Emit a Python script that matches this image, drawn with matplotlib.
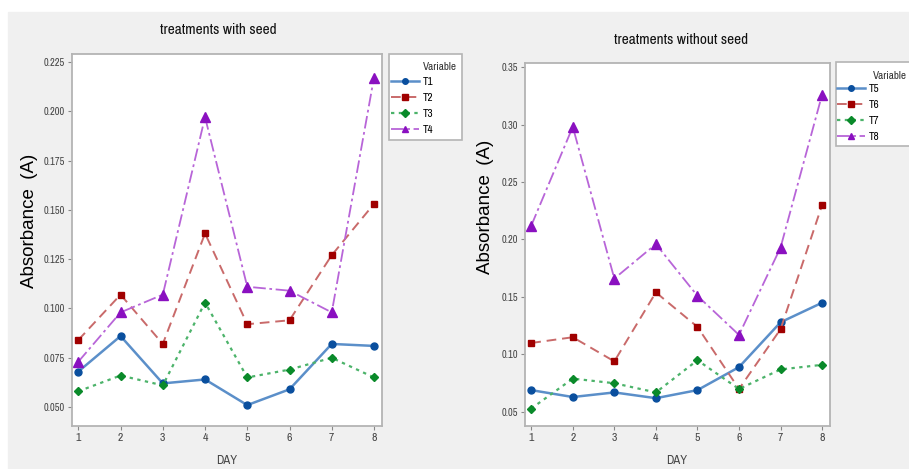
import matplotlib
matplotlib.use("Agg")
import matplotlib.pyplot as plt
from matplotlib.patches import Rectangle

days = [1, 2, 3, 4, 5, 6, 7, 8]

# treatments with seed
t1 = [0.068, 0.086, 0.062, 0.064, 0.051, 0.059, 0.082, 0.081]
t2 = [0.084, 0.107, 0.082, 0.138, 0.092, 0.094, 0.127, 0.153]
t3 = [0.058, 0.066, 0.061, 0.103, 0.065, 0.069, 0.075, 0.065]
t4 = [0.073, 0.098, 0.107, 0.197, 0.111, 0.109, 0.098, 0.217]

# treatments without seed
t5 = [0.069, 0.063, 0.067, 0.062, 0.069, 0.089, 0.128, 0.145]
t6 = [0.110, 0.115, 0.094, 0.154, 0.124, 0.070, 0.122, 0.230]
t7 = [0.053, 0.079, 0.075, 0.067, 0.095, 0.070, 0.087, 0.091]
t8 = [0.212, 0.298, 0.166, 0.196, 0.151, 0.117, 0.193, 0.326]

left_ticks = [0.050, 0.075, 0.100, 0.125, 0.150, 0.175, 0.200, 0.225]
right_ticks = [0.05, 0.10, 0.15, 0.20, 0.25, 0.30, 0.35]

narrow = ['Archivo Narrow', 'Liberation Sans Narrow', 'Liberation Sans', 'DejaVu Sans']
plain = ['Liberation Sans', 'DejaVu Sans']

# (line colour, marker colour, linestyle, marker, marker size, line width)
styles = [
    ('#5b8fc9', '#0a4f9e', '-', 'o', 5, 1.8),
    ('#c96a6a', '#a00000', (0, (5, 3)), 's', 4.5, 1.4),
    ('#4cb36a', '#0a8a2a', (0, (1.5, 2)), 'D', 4.5, 1.6),
    ('#b865d8', '#8a10c0', (0, (7, 2, 1.5, 2)), '^', 6.5, 1.3),
]

W, H = 909, 469
fig = plt.figure(figsize=(W / 100, H / 100), dpi=100, facecolor='white')

# gray panel backgrounds
fig.patches.append(Rectangle((8 / W, 0), (455 - 8) / W, (H - 12) / H,
                             transform=fig.transFigure, color='#f0f0f0', zorder=-10))
fig.patches.append(Rectangle((455 / W, 0), (W - 455) / W, (H - 12) / H,
                             transform=fig.transFigure, color='#f0f0f0', zorder=-10))


def fx(px):
    return px / W


def fy(px):
    return 1 - px / H


def make_panel(box, series, names, ylim, yticks, fmt, title, title_pos,
               ylab_pos, xlab_x, leg_box, leg_title_pos, leg_anchor):
    x0, y0, x1, y1 = box
    ax = fig.add_axes([fx(x0), fy(y1), (x1 - x0) / W, (y1 - y0) / H])
    ax.set_facecolor('white')
    for vals, name, (lc, mc, ls, mk, ms, lw) in zip(series, names, styles):
        ax.plot(days, vals, color=lc, linestyle=ls, linewidth=lw,
                marker=mk, markersize=ms, markerfacecolor=mc,
                markeredgecolor=mc, label=name)
    ax.set_xlim(0.85, 8.19)
    ax.set_ylim(*ylim)
    ax.set_xticks(days)
    ax.set_yticks(yticks)
    ax.set_yticklabels([fmt % v for v in yticks], fontsize=7.5,
                       family=narrow, color='#444444')
    ax.set_xticklabels([str(d) for d in days], fontsize=8.5,
                       family=narrow, color='#444444')
    ax.tick_params(length=3, width=0.8, color='#888888', pad=2)
    for sp in ax.spines.values():
        sp.set_color('#b4b4b4')
        sp.set_linewidth(1.3)

    fig.text(fx(title_pos[0]), fy(title_pos[1]), title, ha='center',
             va='center', fontsize=11, family=narrow, color='#111111')
    fig.text(fx(ylab_pos[0]), fy(ylab_pos[1]), 'Absorbance\u2002(A)',
             rotation=90, ha='center', va='center', fontsize=13.5,
             family=plain)
    fig.text(fx(xlab_x), fy(460), 'DAY', ha='center', va='center',
             fontsize=9, family=narrow, color='#444444')

    # legend frame and title
    lx0, ly0, lx1, ly1 = leg_box
    fig.patches.append(Rectangle((fx(lx0), fy(ly1)), (lx1 - lx0) / W,
                                 (ly1 - ly0) / H, transform=fig.transFigure,
                                 facecolor='white', edgecolor='#b4b4b4',
                                 linewidth=1.2, zorder=-5))
    fig.text(fx(leg_title_pos[0]), fy(leg_title_pos[1]), 'Variable',
             ha='left', va='center', fontsize=8, family=narrow,
             color='#333333')
    leg = ax.legend(loc='upper left',
                    bbox_to_anchor=(fx(leg_anchor[0]), fy(leg_anchor[1])),
                    bbox_transform=fig.transFigure, frameon=False,
                    prop={'family': narrow, 'size': 8},
                    handlelength=2.5, handletextpad=0.35, labelspacing=0.55,
                    borderpad=0, borderaxespad=0)
    for h in leg.legend_handles:
        h.set_markersize(4)
    return ax


make_panel((72, 54, 382, 426), [t1, t2, t3, t4], ['T1', 'T2', 'T3', 'T4'],
           (0.0404, 0.229), left_ticks, '%.3f', 'treatments with seed',
           (218, 30), (29, 221), 227,
           (389, 54, 462, 140), (423, 67), (391, 77))
make_panel((525, 63, 830, 426), [t5, t6, t7, t8], ['T5', 'T6', 'T7', 'T8'],
           (0.0378, 0.3535), right_ticks, '%.2f', 'treatments without seed',
           (681, 40), (485, 207), 677,
           (836, 62, 915, 146), (873, 76), (837, 84))

fig.savefig('out.png', dpi=100, facecolor=fig.get_facecolor())
